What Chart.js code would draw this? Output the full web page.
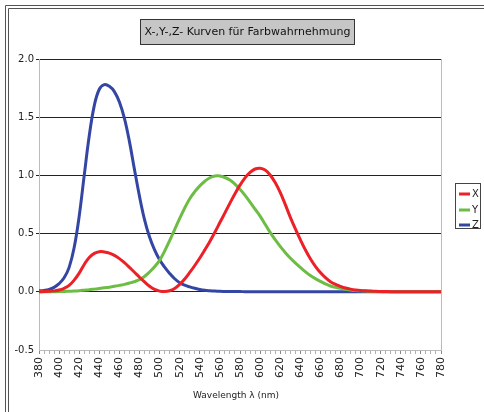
<!DOCTYPE html>
<html lang="de">
  <head>
    <meta charset="UTF-8" />
    <title>X-,Y-,Z- Kurven für Farbwahrnehmung</title>
    <style>
      html, body { margin: 0; padding: 0; background: #fff; }
      canvas { display: block; }
    </style>
  </head>
  <body>
    <canvas id="myChart" width="484" height="412"></canvas>
    <script src="https://cdn.jsdelivr.net/npm/chart.js"></script>
    <script>
      const wavelengths = [
        380, 385, 390, 395, 400, 405, 410, 415, 420, 425, 430, 435, 440, 445,
        450, 455, 460, 465, 470, 475, 480, 485, 490, 495, 500, 505, 510, 515,
        520, 525, 530, 535, 540, 545, 550, 555, 560, 565, 570, 575, 580, 585,
        590, 595, 600, 605, 610, 615, 620, 625, 630, 635, 640, 645, 650, 655,
        660, 665, 670, 675, 680, 685, 690, 695, 700, 705, 710, 715, 720, 725,
        730, 735, 740, 745, 750, 755, 760, 765, 770, 775, 780
      ];
      const xValues = [
        0.001, 0.002, 0.004, 0.008, 0.015, 0.03, 0.055, 0.1, 0.16, 0.235,
        0.295, 0.33, 0.345, 0.342, 0.332, 0.313, 0.285, 0.25, 0.21, 0.168,
        0.125, 0.085, 0.048, 0.02, 0.006, 0.002, 0.009, 0.029, 0.063, 0.11,
        0.166, 0.226, 0.29, 0.36, 0.433, 0.512, 0.595, 0.678, 0.762, 0.843,
        0.916, 0.979, 1.026, 1.055, 1.062, 1.046, 1.003, 0.938, 0.854, 0.751,
        0.642, 0.542, 0.448, 0.361, 0.284, 0.219, 0.165, 0.121, 0.087, 0.064,
        0.047, 0.033, 0.023, 0.016, 0.011, 0.008, 0.006, 0.004, 0.003, 0.002,
        0.001, 0.001, 0.001, 0, 0, 0, 0, 0, 0, 0, 0
      ];
      const yValues = [
        0, 0, 0, 0.001, 0.002, 0.003, 0.005, 0.007, 0.01, 0.014, 0.018, 0.023,
        0.028, 0.034, 0.04, 0.047, 0.055, 0.064, 0.075, 0.088, 0.105, 0.132,
        0.17, 0.215, 0.27, 0.35, 0.44, 0.535, 0.63, 0.72, 0.8, 0.86, 0.91, 0.95,
        0.98, 0.995, 0.995, 0.982, 0.96, 0.925, 0.88, 0.828, 0.77, 0.71, 0.65,
        0.58, 0.51, 0.448, 0.39, 0.338, 0.29, 0.248, 0.21, 0.173, 0.14, 0.113,
        0.09, 0.068, 0.05, 0.039, 0.03, 0.022, 0.015, 0.011, 0.008, 0.006,
        0.004, 0.003, 0.002, 0.001, 0, 0, 0, 0, 0, 0, 0, 0, 0, 0, 0
      ];
      const zValues = [
        0.008, 0.012, 0.02, 0.038, 0.07, 0.12, 0.21, 0.38, 0.65, 1.0,
        1.34, 1.6, 1.74, 1.78, 1.765, 1.72, 1.63, 1.49, 1.29, 1.05,
        0.82, 0.62, 0.47, 0.36, 0.275, 0.212, 0.158, 0.112, 0.078, 0.057,
        0.042, 0.03, 0.02, 0.013, 0.009, 0.006, 0.004, 0.003, 0.002, 0.002,
        0.002, 0.001, 0.001, 0.001, 0.001, 0.001, 0, 0, 0, 0, 0, 0, 0, 0, 0, 0,
        0, 0, 0, 0, 0, 0, 0, 0, 0, 0, 0, 0, 0, 0, 0, 0, 0, 0, 0, 0, 0, 0, 0, 0, 0
      ];
      const seriesNames = ["X", "Y", "Z"];
      const seriesColors = ["#ec2027", "#6dbd45", "#3446a3"];
      const chartTitle = "X-,Y-,Z- Kurven für Farbwahrnehmung";
      const axisTitle = "Wavelength λ (nm)";

      const FONT = "'DejaVu Sans', sans-serif";

      function toPoints(values) {
        return wavelengths.map((w, i) => ({ x: w, y: values[i] }));
      }

      const decorations = {
        id: "decorations",
        beforeDraw(chart) {
          const c = chart.ctx;
          c.save();
          c.fillStyle = "#fff";
          c.fillRect(0, 0, chart.width, chart.height);
          // double frame
          c.strokeStyle = "#555";
          c.lineWidth = 1;
          [5.5, 8.5].forEach(p => {
            c.beginPath();
            c.moveTo(p, chart.height);
            c.lineTo(p, p);
            c.lineTo(chart.width, p);
            c.stroke();
          });
          c.restore();
        },
        afterDraw(chart) {
          const c = chart.ctx;
          const area = chart.chartArea;
          c.save();
          // right border of plot
          c.strokeStyle = "#bbb";
          c.lineWidth = 1;
          c.beginPath();
          c.moveTo(area.right + 0.5, area.top);
          c.lineTo(area.right + 0.5, area.bottom);
          c.stroke();

          // title box
          c.fillStyle = "#c6c6c6";
          c.fillRect(140, 19, 215, 26);
          c.strokeStyle = "#333";
          c.strokeRect(140.5, 19.5, 214, 25);
          c.fillStyle = "#111";
          c.font = "11px " + FONT;
          c.textAlign = "center";
          c.textBaseline = "middle";
          c.fillText(chartTitle, 247.5, 32);

          // axis title
          c.font = "9px " + FONT;
          c.fillStyle = "#222";
          c.fillText(axisTitle, 236, 396);

          // legend
          c.fillStyle = "#fff";
          c.fillRect(455, 183, 26, 46);
          c.strokeStyle = "#444";
          c.strokeRect(455.5, 183.5, 25, 45);
          const rows = [194, 210, 225];
          c.textAlign = "left";
          c.font = "10px " + FONT;
          seriesNames.forEach((name, i) => {
            c.strokeStyle = seriesColors[i];
            c.lineWidth = 3;
            c.beginPath();
            c.moveTo(459, rows[i]);
            c.lineTo(470, rows[i]);
            c.stroke();
            c.fillStyle = "#222";
            c.fillText(name, 472, rows[i] + 0.5);
          });
          c.restore();
        }
      };

      const ctx = document.querySelector("#myChart");
      const myChart = new Chart(ctx, {
        type: "line",
        data: {
          datasets: [
            { label: seriesNames[0], data: toPoints(xValues), borderColor: seriesColors[0] },
            { label: seriesNames[1], data: toPoints(yValues), borderColor: seriesColors[1] },
            { label: seriesNames[2], data: toPoints(zValues), borderColor: seriesColors[2] }
          ]
        },
        options: {
          responsive: false,
          animation: false,
          layout: { padding: { left: 0, top: 59, right: 43, bottom: 0 } },
          plugins: {
            legend: { display: false },
            tooltip: { enabled: false }
          },
          elements: {
            point: { radius: 0 },
            line: { borderWidth: 3, tension: 0.4 }
          },
          scales: {
            x: {
              type: "linear",
              min: 380,
              max: 780,
              afterFit: s => { s.height = 62; },
              ticks: {
                stepSize: 5,
                autoSkip: false,
                minRotation: 90,
                maxRotation: 90,
                padding: 3,
                color: "#222",
                font: { family: FONT, size: 11 },
                callback: v => (v % 20 === 0 ? v : "")
              },
              grid: {
                drawOnChartArea: false,
                tickLength: 4,
                color: c => (c.tick && c.tick.value % 20 === 0 ? "#888" : "#b0b0b0")
              },
              border: { color: "#bbb" }
            },
            y: {
              min: -0.5,
              max: 2,
              afterFit: s => { s.width = 39; },
              ticks: {
                stepSize: 0.5,
                padding: 2,
                color: "#222",
                font: { family: FONT, size: 10 },
                callback: v => v.toFixed(1)
              },
              grid: {
                tickLength: 3,
                color: c => (c.tick && c.tick.value === -0.5 ? "rgba(0,0,0,0)" : "#222")
              },
              border: { color: "#bbb" }
            }
          }
        },
        plugins: [decorations]
      });
    </script>
  </body>
</html>
